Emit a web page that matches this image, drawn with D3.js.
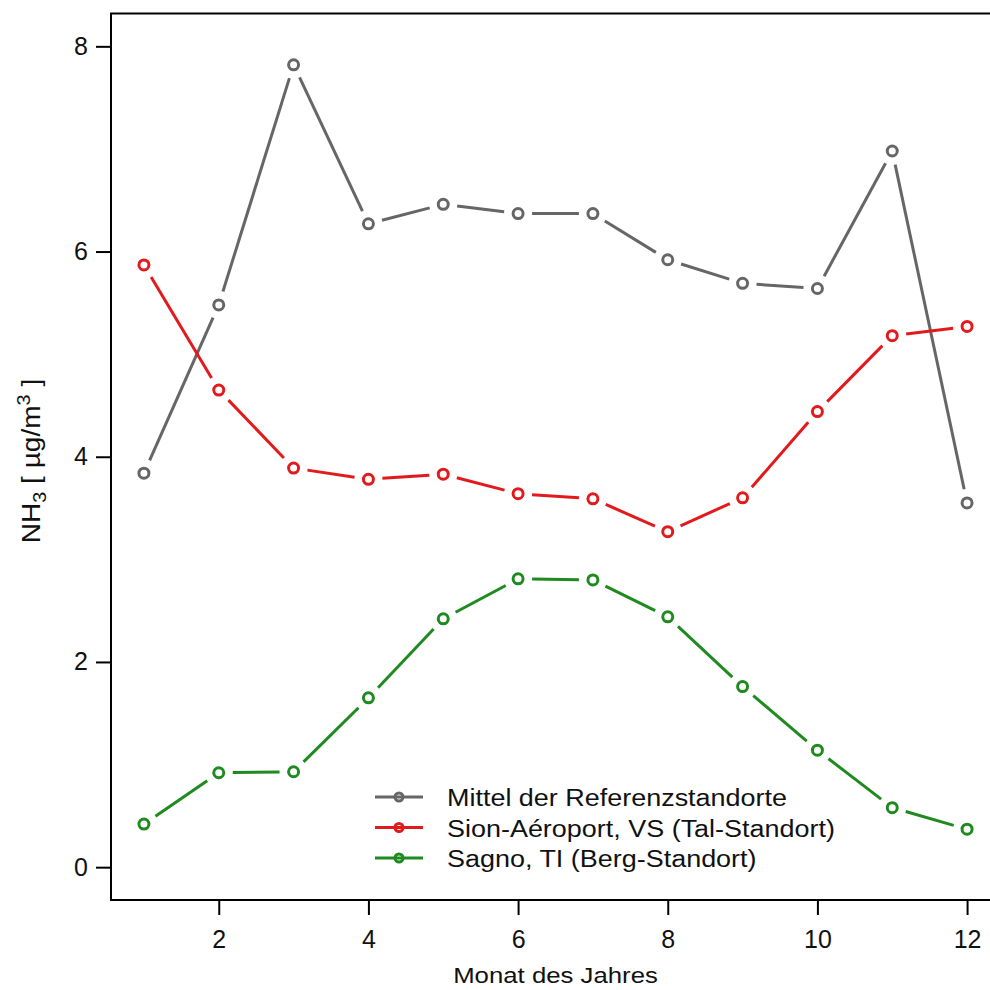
<!DOCTYPE html>
<html>
<head>
<meta charset="utf-8">
<script src="https://cdn.jsdelivr.net/npm/d3@7"></script>
<style>
  html, body { margin: 0; padding: 0; background: #fff; }
  svg { display: block; font-family: "Liberation Sans", Arial, sans-serif; }
</style>
</head>
<body>
<svg id="chart" width="990" height="990"></svg>
<script>
// Monthly NH3 concentrations (µg/m³)
const months = [1, 2, 3, 4, 5, 6, 7, 8, 9, 10, 11, 12];
const mittel = [3.84, 5.48, 7.82, 6.27, 6.46, 6.37, 6.37, 5.92, 5.69, 5.64, 6.98, 3.55];
const sion   = [5.87, 4.65, 3.89, 3.78, 3.83, 3.64, 3.59, 3.27, 3.60, 4.44, 5.18, 5.27];
const sagno  = [0.42, 0.92, 0.93, 1.65, 2.42, 2.81, 2.80, 2.44, 1.76, 1.14, 0.58, 0.37];
const seriesNames = ["Mittel der Referenzstandorte", "Sion-Aéroport, VS (Tal-Standort)", "Sagno, TI (Berg-Standort)"];
const seriesColors = ["#666666", "#e31a1c", "#1f8a1f"];
const xTicks = [2, 4, 6, 8, 10, 12];
const yTicks = [0, 2, 4, 6, 8];

const seriesList = [mittel, sion, sagno].map((vals, i) => ({
  name: seriesNames[i], color: seriesColors[i],
  points: months.map((m, j) => ({ x: m, y: vals[j] }))
}));

const svg = d3.select("#chart");
const plotLeft = 111, plotRight = 1000, plotTop = 13.5, plotBottom = 900;

const x = d3.scaleLinear().domain([0.56, 12.44]).range([plotLeft, plotRight]);
const y = d3.scaleLinear().domain([-0.32, 8.32]).range([plotBottom, plotTop]);

// frame
svg.append("rect")
  .attr("x", plotLeft).attr("y", plotTop)
  .attr("width", plotRight - plotLeft).attr("height", plotBottom - plotTop)
  .attr("fill", "none").attr("stroke", "#000").attr("stroke-width", 2);

// axes
const xAxis = svg.append("g").attr("transform", `translate(0,${plotBottom})`)
  .call(d3.axisBottom(x).tickValues(xTicks).tickSize(15).tickPadding(15).tickFormat(d3.format("d")));
const yAxis = svg.append("g").attr("transform", `translate(${plotLeft},0)`)
  .call(d3.axisLeft(y).tickValues(yTicks).tickSize(15).tickPadding(8).tickFormat(d3.format("d")));
[xAxis, yAxis].forEach(g => {
  g.select(".domain").remove();
  g.selectAll(".tick line").attr("stroke", "#000").attr("stroke-width", 2);
  g.selectAll(".tick text").attr("fill", "#111").style("font-size", "25px")
    .style("font-family", "Liberation Sans, Arial, sans-serif");
});

// axis titles
svg.append("text")
  .attr("transform", `translate(${(plotLeft + plotRight) / 2},983) scale(1.12,1)`)
  .attr("text-anchor", "middle").style("font-size", "23px").attr("fill", "#111")
  .text("Monat des Jahres");

const yt = svg.append("text")
  .attr("transform", `translate(40,461) rotate(-90) scale(1.1,1)`)
  .attr("text-anchor", "middle").style("font-size", "25.5px").attr("fill", "#111");
yt.append("tspan").text("NH");
yt.append("tspan").attr("dy", 6).style("font-size", "18px").text("3");
yt.append("tspan").attr("dy", -6).text(" [ µg/m");
yt.append("tspan").attr("dy", -10).style("font-size", "18px").text("3");
yt.append("tspan").attr("dy", 10).text(" ]");

// lines with gaps around the markers
const gap = 14;
const plot = svg.append("g");
seriesList.forEach(s => {
  const segs = d3.pairs(s.points).map(([a, b]) => {
    const x1 = x(a.x), y1 = y(a.y), x2 = x(b.x), y2 = y(b.y);
    const len = Math.hypot(x2 - x1, y2 - y1);
    if (len <= 2 * gap) return null;
    const ux = (x2 - x1) / len, uy = (y2 - y1) / len;
    return [x1 + ux * gap, y1 + uy * gap, x2 - ux * gap, y2 - uy * gap];
  }).filter(Boolean);
  plot.append("g").selectAll("line").data(segs).join("line")
    .attr("x1", d => d[0]).attr("y1", d => d[1])
    .attr("x2", d => d[2]).attr("y2", d => d[3])
    .attr("stroke", s.color).attr("stroke-width", 3);
  plot.append("g").selectAll("circle").data(s.points).join("circle")
    .attr("cx", d => x(d.x)).attr("cy", d => y(d.y)).attr("r", 5)
    .attr("fill", "none").attr("stroke", s.color).attr("stroke-width", 3);
});

// legend
const legend = svg.append("g");
seriesList.forEach((s, i) => {
  const ly = 797 + i * 30.5;
  legend.append("line").attr("x1", 375).attr("x2", 423).attr("y1", ly).attr("y2", ly)
    .attr("stroke", s.color).attr("stroke-width", 3);
  legend.append("circle").attr("cx", 399).attr("cy", ly).attr("r", 4)
    .attr("fill", "none").attr("stroke", s.color).attr("stroke-width", 3);
  legend.append("text").attr("transform", `translate(447,${ly + 9}) scale(1.1,1)`)
    .style("font-size", "24.5px").attr("fill", "#111").text(s.name);
});
</script>
</body>
</html>
